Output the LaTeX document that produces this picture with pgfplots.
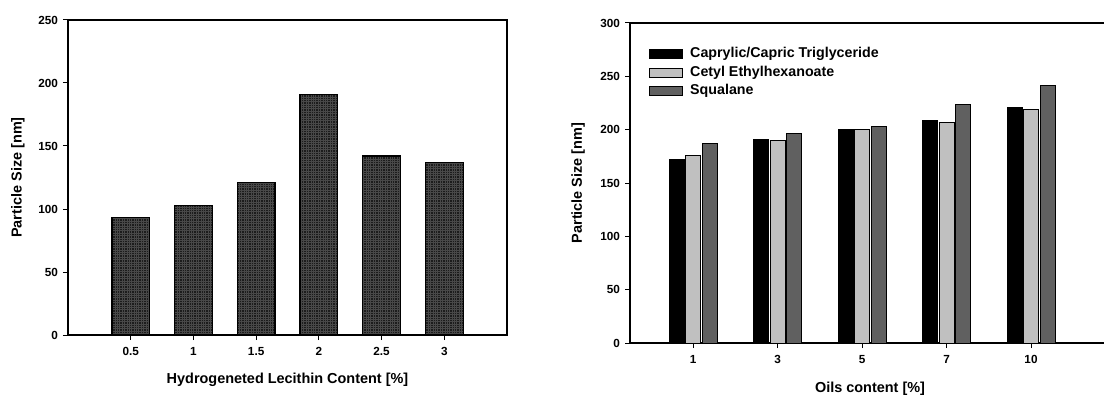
\documentclass[border=0pt]{standalone}
\usepackage{pgfplots}
\pgfplotsset{compat=1.18}
\usetikzlibrary{patterns}
\usepackage{fontspec}
\setmainfont{Liberation Sans}
\definecolor{lgray}{HTML}{C0C0C0}
\definecolor{dgray}{HTML}{606060}
\definecolor{hatch}{HTML}{1C1C1C}
\definecolor{hatchline}{HTML}{484848}
\pgfdeclarepatternformonly{finegrid}{\pgfqpoint{-1pt}{-1pt}}{\pgfqpoint{3.4pt}{3.4pt}}{\pgfqpoint{2.4pt}{2.4pt}}%
{\pgfsetlinewidth{0.4pt}
 \pgfpathmoveto{\pgfqpoint{0pt}{0pt}}\pgfpathlineto{\pgfqpoint{2.4pt}{0pt}}
 \pgfpathmoveto{\pgfqpoint{0pt}{0pt}}\pgfpathlineto{\pgfqpoint{0pt}{2.4pt}}
 \pgfusepath{stroke}}
\pgfplotsset{
  common/.style={
    scale only axis,
    anchor=south west,
    tick align=outside,
    xtick pos=bottom, ytick pos=left,
    major tick length=5bp,
    axis line style={line width=1.2bp},
    tick style={line width=1bp, black},
    ticklabel style={font=\fontsize{11.8}{13}\selectfont\bfseries},
    xticklabel style={yshift=-4bp},
    yticklabel style={xshift=-1.5bp},
    label style={font=\fontsize{14.5}{16}\selectfont\bfseries},
    /pgf/number format/assume math mode=true,
    x label style={at={(axis description cs:0.5,0)}, anchor=center, yshift=-45bp},
  }
}
\begin{document}
\begin{tikzpicture}[x=1bp,y=1bp]
\useasboundingbox (0,0) rectangle (1104,398);
\clip (0,0) rectangle (1104,398);
\begin{axis}[common,
  at={(68bp,63bp)}, width=439bp, height=315bp,
  xmin=0, xmax=3.5, ymin=0, ymax=250,
  xtick={0.5,1,1.5,2,2.5,3}, xticklabels={0.5,1,1.5,2,2.5,3},
  ytick={0,50,100,150,200,250},
  ybar, bar width=0.3,
  xlabel={Hydrogeneted Lecithin Content [\%]},
  ylabel={Particle Size [nm]},
  y label style={at={(axis description cs:-0.1139,0.5)}, anchor=center},
]
\addplot[fill=hatch, draw=black, line width=1.2bp, postaction={pattern=finegrid, pattern color=hatchline}]
  coordinates {(0.5,93) (1,103) (1.5,121) (2,191) (2.5,142) (3,137)};
\end{axis}
\begin{axis}[common,
  at={(630bp,55bp)}, width=480bp, height=320bp,
  xmin=-0.746, xmax=4.935, ymin=0, ymax=300,
  xtick={0,1,2,3,4}, xticklabels={1,3,5,7,10},
  ytick={0,50,100,150,200,250,300},
  ybar=1.5bp, bar width=15bp,
  xlabel={Oils content [\%]},
  ylabel={Particle Size [nm]},
  x label style={yshift=-1bp},
  y label style={at={(axis description cs:-0.108,0.5)}, anchor=center},
  legend image code/.code={\draw[#1, line width=1bp] (0bp,-4.5bp) rectangle (33bp,4.5bp);},
  legend style={at={(0.0396,0.932)}, anchor=north west, draw=none, fill=none, inner sep=0pt,
    font=\fontsize{14.3}{15}\selectfont\bfseries, row sep=0bp,
    nodes={inner xsep=1bp, inner ysep=2.75bp, text height=10bp, text depth=3bp},
    /tikz/every odd column/.append style={column sep=6bp}},
  legend cell align=left,
]
\addplot[fill=black, draw=black, line width=1bp] coordinates {(0,172) (1,191) (2,200) (3,209) (4,221)};
\addplot[fill=lgray, draw=black, line width=1bp] coordinates {(0,176) (1,190) (2,200) (3,207) (4,219)};
\addplot[fill=dgray, draw=black, line width=1bp] coordinates {(0,187) (1,196) (2,203) (3,224) (4,241)};
\legend{Caprylic/Capric Triglyceride, Cetyl Ethylhexanoate, Squalane}
\end{axis}
\end{tikzpicture}
\end{document}
